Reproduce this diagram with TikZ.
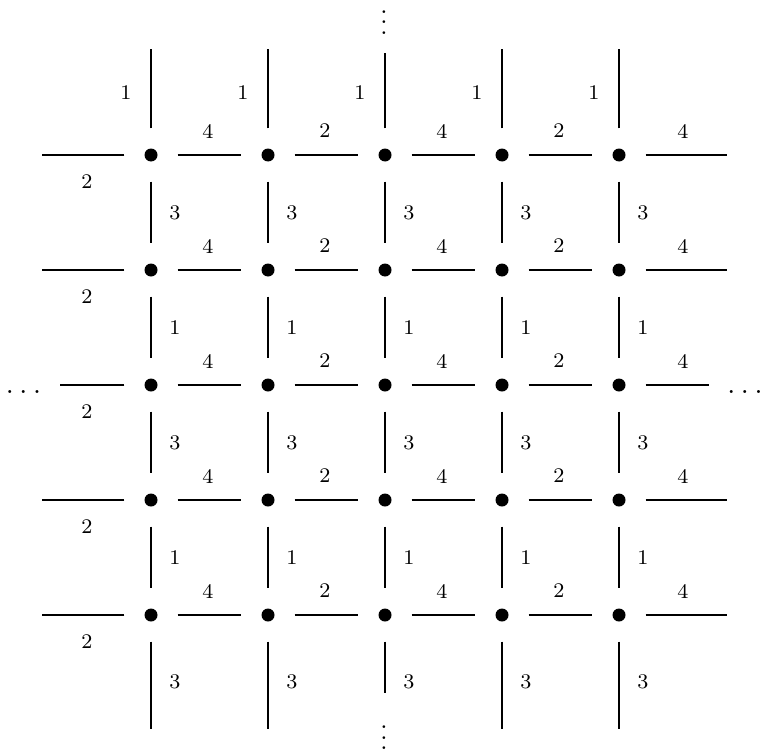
\documentclass[tikz,border=0pt]{standalone}
\usepackage{tikz}
\usetikzlibrary{calc}
\newcommand{\colldots}{\vbox{\baselineskip4pt\lineskiplimit0pt\hbox{.}\hbox{.}\hbox{.}}}
\tikzset{
  site/.style={circle, fill=black, inner sep=0pt, minimum size=5pt},
  bond/.style={line width=0.4pt, shorten <=7.5pt, shorten >=7.5pt},
  openbond/.style={line width=0.4pt, shorten <=7.5pt},
  weight/.style={font=\footnotesize, inner sep=0pt},
  etc/.style={inner sep=0pt},
}
\begin{document}
\begin{tikzpicture}[x=0.3846pt, y=-0.3846pt]
  \useasboundingbox (0,0) rectangle (760,750);

  % lattice sites
  \foreach \i in {0,...,4}
    \foreach \j in {0,...,4}
      \node[site] (s\i\j) at (151+117*\i, 155+115*\j) {};

  % bonds along the rows
  \foreach \i/\w in {0/4, 1/2, 2/4, 3/2} {
    \pgfmathtruncatemacro\k{\i+1}
    \foreach \j in {0,...,4} {
      \draw[bond] (s\i\j) -- (s\k\j);
      \node[weight] (h\i\j) at ($(s\i\j)+(57,-24)$) {\w};
    }
  }

  % bonds along the columns
  \foreach \j/\w in {0/3, 1/1, 2/3, 3/1} {
    \pgfmathtruncatemacro\k{\j+1}
    \foreach \i in {0,...,4} {
      \draw[bond] (s\i\j) -- (s\i\k);
      \node[weight] (v\i\j) at ($(s\i\j)+(24,58)$) {\w};
    }
  }

  % open ends, left and right
  \foreach \j/\l/\r in {0/42/727, 1/42/727, 2/60/709, 3/42/727, 4/42/727} {
    \coordinate (l\j) at (\l, 155+115*\j);
    \coordinate (r\j) at (\r, 155+115*\j);
    \draw[openbond] (s0\j) -- (l\j);
    \draw[openbond] (s4\j) -- (r\j);
    \node[weight] (wl\j) at ($(s0\j)+(-64,27)$) {2};
    \node[weight] (wr\j) at ($(s4\j)+(64,-24)$) {4};
  }

  % open ends, top and bottom
  \foreach \i/\t/\b in {0/49/729, 1/49/729, 2/53/693, 3/49/729, 4/49/729} {
    \coordinate (t\i) at (151+117*\i, \t);
    \coordinate (b\i) at (151+117*\i, \b);
    \draw[openbond] (s\i0) -- (t\i);
    \draw[openbond] (s\i4) -- (b\i);
    \node[weight] (wt\i) at ($(s\i0)+(-25,-62)$) {1};
    \node[weight] (wb\i) at ($(s\i4)+(24,67)$) {3};
  }

  % the lattice goes on
  \node[etc, anchor=base, font=\large] (west) at (23.5,393.7) {$\dots$};
  \node[etc, anchor=base, font=\large] (east) at (745,393.7) {$\dots$};
  \node[etc] (north) at (384,22.5) {\colldots};
  \node[etc] (south) at (384,738) {\colldots};

\end{tikzpicture}
\end{document}
